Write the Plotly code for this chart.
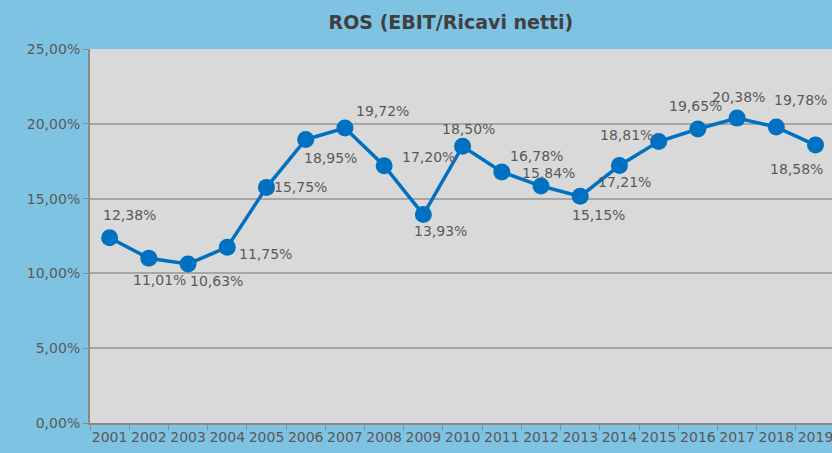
import plotly.graph_objects as go

years = [str(y) for y in range(2001, 2020)]
ros = [12.38, 11.01, 10.63, 11.75, 15.75, 18.95, 19.72, 17.20, 13.93, 18.50,
       16.78, 15.84, 15.15, 17.21, 18.81, 19.65, 20.38, 19.78, 18.58]
y_ticks = [0, 5, 10, 15, 20, 25]
y_tick_labels = ["0,00%", "5,00%", "10,00%", "15,00%", "20,00%", "25,00%"]

# label offsets (px) relative to each point
label_offsets = [(20, 23), (11, -22), (28, -17), (38, -7), (34, 0), (25, -18),
                 (38, 17), (44, 9), (17, -16), (6, 17), (35, 16), (7, 13),
                 (18, -19), (5, -16), (-32, 7), (-2, 23), (1, 21), (24, 27),
                 (-19, -24)]

FONT = "DejaVu Sans, sans-serif"

fig = go.Figure()
fig.add_trace(go.Scatter(
    x=years, y=ros, mode="lines+markers",
    line=dict(color="#0070C0", width=3.5),
    marker=dict(color="#0070C0", size=17),
    hoverinfo="skip",
))

annotations = []
for i, (v, (dx, dy)) in enumerate(zip(ros, label_offsets)):
    annotations.append(dict(
        x=i, y=v, xref="x", yref="y",
        text=("%.2f" % v).replace(".", ",") + "%",
        showarrow=False, xshift=dx, yshift=dy,
        font=dict(family=FONT, size=14, color="#595959"),
    ))

fig.update_layout(
    width=832, height=453,
    paper_bgcolor="#7FC3E3", plot_bgcolor="#D9D9D9",
    margin=dict(l=90, r=0, t=49, b=30),
    showlegend=False,
    annotations=annotations,
    title=dict(text="<b>ROS (EBIT/Ricavi netti)</b>", x=0.542, xanchor="center",
               y=0.951, yanchor="middle",
               font=dict(family=FONT, size=19, color="#404040")),
    font=dict(family=FONT, size=14, color="#595959"),
)
fig.update_xaxes(
    type="category", range=[-0.5, 18.42], tickangle=0,
    showgrid=False, showline=True, linecolor="#898989", linewidth=2,
    ticks="outside", tickson="boundaries", ticklen=5, tickcolor="#898989",
    tickfont=dict(size=14, color="#595959"),
)
fig.update_yaxes(
    range=[0, 25], tickvals=y_ticks, ticktext=y_tick_labels,
    showgrid=True, gridcolor="#A6A6A6", gridwidth=1.5,
    showline=True, linecolor="#898989", linewidth=2,
    ticks="outside", ticklen=5, tickcolor="#898989",
    tickfont=dict(size=14, color="#595959"), zeroline=False,
)

fig.write_html("out.html", config={"displayModeBar": False},
               post_script="document.body.style.margin='0';")
